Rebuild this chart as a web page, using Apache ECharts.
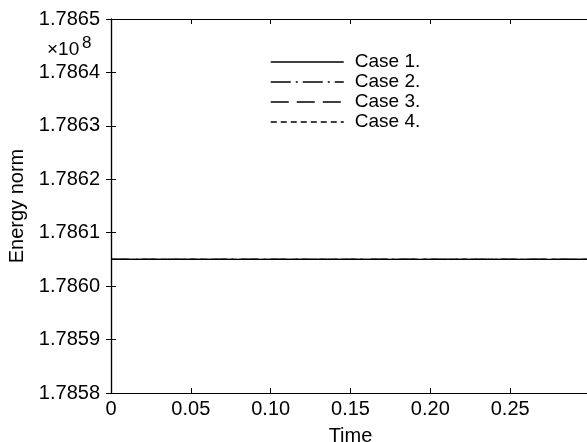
<!DOCTYPE html>
<html>
<head>
<meta charset="utf-8">
<script src="https://cdn.jsdelivr.net/npm/echarts@6/dist/echarts.min.js"></script>
<style>
html, body { margin: 0; padding: 0; background: #fff; }
#chart { width: 587px; height: 442px; }
</style>
</head>
<body>
<div id="chart"></div>
<script>
const times = [0, 0.05, 0.10, 0.15, 0.20, 0.25, 0.30]
const case1 = [178605000, 178605000, 178605000, 178605000, 178605000, 178605000, 178605000]
const case2 = [178605000, 178605000, 178605000, 178605000, 178605000, 178605000, 178605000]
const case3 = [178605000, 178605000, 178605000, 178605000, 178605000, 178605000, 178605000]
const case4 = [178605000, 178605000, 178605000, 178605000, 178605000, 178605000, 178605000]
const caseNames = ['Case 1.', 'Case 2.', 'Case 3.', 'Case 4.']
const xTickLabels = ['0', '0.05', '0.10', '0.15', '0.20', '0.25']
const yTickLabels = ['1.7858', '1.7859', '1.7860', '1.7861', '1.7862', '1.7863', '1.7864', '1.7865']

const font = 'Liberation Sans, Arial, sans-serif'
const axisLine = {show:true, lineStyle:{color:'#000', width:1.2}}
const tickIn = {show:true, inside:true, length:5, lineStyle:{color:'#000', width:1}}

function pairs(ys){
  return times.map((t,i)=>[t, ys[i]])
}
function xLabel(v){
  const i = Math.round(v / 0.05)
  return xTickLabels[i] !== undefined ? xTickLabels[i] : ''
}
function yLabel(v){
  const i = Math.round((v - 178580000) / 10000)
  return yTickLabels[i] !== undefined ? yTickLabels[i] : ''
}

const dashes = ['solid', [20,5,2,5], [18,8], [6,4]]
const allData = [case1, case2, case3, case4]

const series = allData.map((d,i)=>({
  name: caseNames[i],
  type: 'line',
  data: pairs(d),
  symbol: 'none',
  silent: true,
  color: '#000',
  z: 10 - i,
  itemStyle: {color:'#000'},
  lineStyle: {color:'#000', width:1.2, type: dashes[i]}
}))

const chart = echarts.init(document.getElementById('chart'))
chart.setOption({
  animation: false,
  backgroundColor: '#fff',
  textStyle: {fontFamily: font},
  grid: {left:111, top:19, bottom:49, right:-3, outerBoundsMode:'none', containLabel:false},
  legend: {
    data: caseNames,
    orient: 'vertical',
    left: 270,
    top: 52,
    padding: 0,
    itemWidth: 73,
    itemHeight: 14,
    itemGap: 0,
    textStyle: {color:'#000', fontSize:19, lineHeight:20, fontFamily:font, padding:[0,0,0,6]},
    itemStyle: {opacity:0},
    lineStyle: {color:'#000', width:1.5}
  },
  xAxis: [{
    type: 'value',
    min: 0, max: 0.3, interval: 0.05,
    name: 'Time',
    nameLocation: 'middle',
    nameGap: 33,
    nameTextStyle: {color:'#000', fontSize:20, fontFamily:font},
    axisLine: axisLine,
    axisTick: tickIn,
    splitLine: {show:false},
    axisLabel: {color:'#000', fontSize:20, fontFamily:font, margin:6, showMaxLabel:false, formatter:xLabel}
  },{
    type: 'value',
    position: 'top',
    min: 0, max: 0.3, interval: 0.05,
    axisLine: axisLine,
    axisTick: tickIn,
    splitLine: {show:false},
    axisLabel: {show:false}
  }],
  yAxis: [{
    type: 'value',
    min: 178580000, max: 178650000, interval: 10000,
    name: 'Energy norm',
    nameLocation: 'middle',
    nameGap: 84,
    nameTextStyle: {color:'#000', fontSize:20, fontFamily:font},
    axisLine: axisLine,
    axisTick: tickIn,
    splitLine: {show:false},
    axisLabel: {color:'#000', fontSize:20, fontFamily:font, margin:11, formatter:yLabel}
  },{
    type: 'value',
    position: 'right',
    min: 178580000, max: 178650000, interval: 10000,
    axisLine: axisLine,
    axisTick: tickIn,
    splitLine: {show:false},
    axisLabel: {show:false}
  }],
  graphic: [
    {type:'text', left:47, top:40, style:{text:'×10', fontSize:19, fontFamily:font, fill:'#000'}},
    {type:'text', left:82, top:35, style:{text:'8', fontSize:17, fontFamily:font, fill:'#000'}}
  ],
  series: series
})
</script>
</body>
</html>
